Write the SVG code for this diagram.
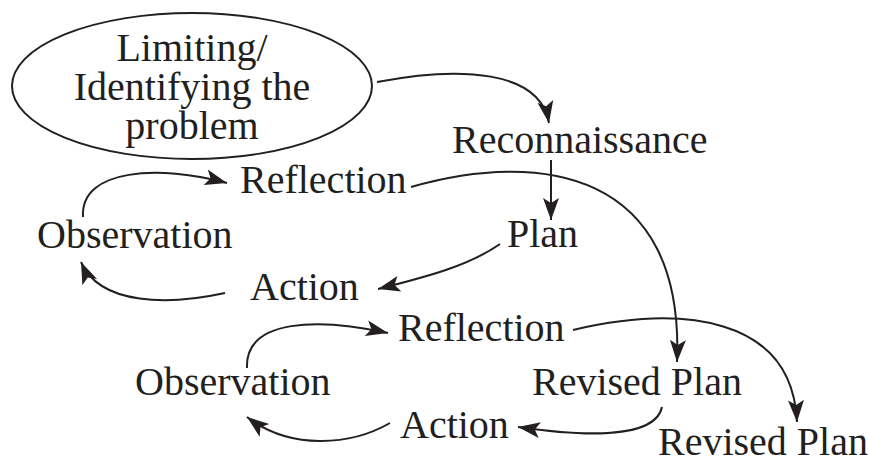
<svg xmlns="http://www.w3.org/2000/svg" width="869" height="460" viewBox="0 0 869 460">
  <style>
    .lbl { font-family: "Liberation Serif", "Times New Roman", serif; font-size: 40px; fill: #231f20; }
    .link { fill: none; stroke: #231f20; stroke-width: 2; marker-end: url(#head); }
  </style>
  <defs>
    <marker id="head" viewBox="-23 -9 24 18" refX="0" refY="0" markerWidth="24" markerHeight="18" markerUnits="userSpaceOnUse" orient="auto">
      <path d="M0,0 L-22,-8 L-17,0 L-22,8 Z" fill="#231f20"/>
    </marker>
  </defs>
  <rect width="869" height="460" fill="#ffffff"/>

  <g id="problem">
    <ellipse cx="192" cy="86" rx="180" ry="73" fill="none" stroke="#231f20" stroke-width="2"/>
    <text class="lbl" x="192" y="61" text-anchor="middle">Limiting/</text>
    <text class="lbl" x="192" y="100" text-anchor="middle">Identifying the</text>
    <text class="lbl" x="192" y="139" text-anchor="middle">problem</text>
  </g>
  <g id="reconnaissance"><text class="lbl" x="452" y="153">Reconnaissance</text></g>
  <g id="plan"><text class="lbl" x="507" y="247">Plan</text></g>
  <g id="reflection1"><text class="lbl" x="240" y="193">Reflection</text></g>
  <g id="observation1"><text class="lbl" x="37" y="248">Observation</text></g>
  <g id="action1"><text class="lbl" x="250" y="300">Action</text></g>
  <g id="reflection2"><text class="lbl" x="398" y="341">Reflection</text></g>
  <g id="observation2"><text class="lbl" x="135" y="395">Observation</text></g>
  <g id="action2"><text class="lbl" x="400" y="438">Action</text></g>
  <g id="revised-plan1"><text class="lbl" x="532" y="395">Revised Plan</text></g>
  <g id="revised-plan2"><text class="lbl" x="658" y="455">Revised Plan</text></g>

  <g id="connectors">
    <path class="link" d="M377,82 C460,66 540,70 549,123"/>
    <path class="link" d="M551,160 L551,220"/>
    <path class="link" d="M411,187 C540,150 685,170 677,362"/>
    <path class="link" d="M500,244 C470,265 430,276 378,289"/>
    <path class="link" d="M225,293 C170,305 100,306 81,262"/>
    <path class="link" d="M83,217 C80,168 160,165 227,183"/>
    <path class="link" d="M247,368 C245,318 320,318 388,333"/>
    <path class="link" d="M573,330 C680,305 792,315 797,422"/>
    <path class="link" d="M662,407 C655,440 580,436 518,427"/>
    <path class="link" d="M390,423 C350,446 290,450 247,417"/>
  </g>
</svg>
